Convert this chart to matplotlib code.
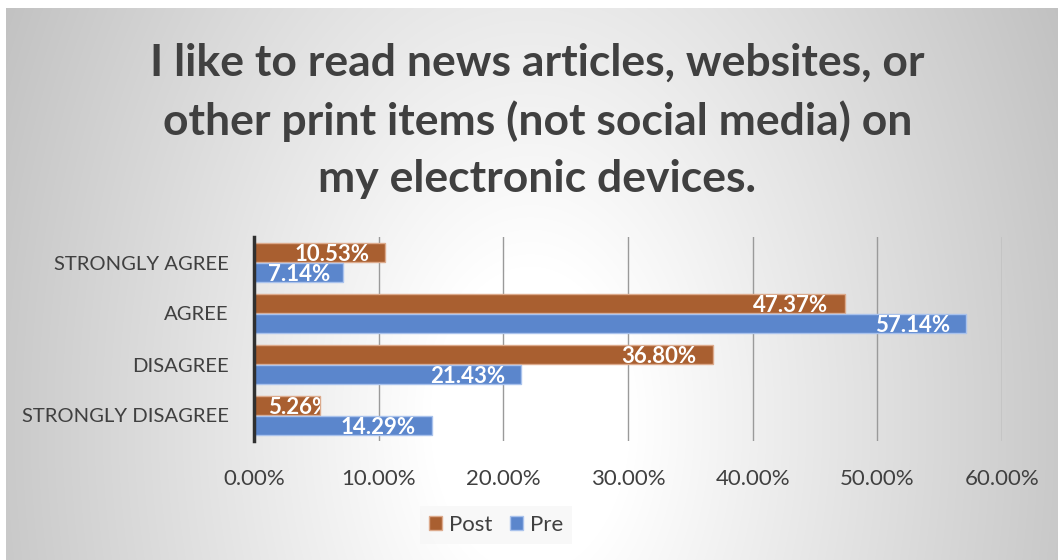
import numpy as np
import matplotlib
matplotlib.use("Agg")
import matplotlib.pyplot as plt
from matplotlib.patches import Patch

categories = ["STRONGLY AGREE", "AGREE", "DISAGREE", "STRONGLY DISAGREE"]
post = [10.53, 47.37, 36.80, 5.26]
pre = [7.14, 57.14, 21.43, 14.29]
xticks = [0, 10, 20, 30, 40, 50, 60]
title = ("I like to read news articles, websites, or\n"
         "other print items (not social media) on\n"
         "my electronic devices.")

post_color = "#a95f30"
pre_color = "#5b86cc"
text_color = "#404040"

plt.rcParams["font.family"] = ["Lato", "DejaVu Sans"]

W, H = 1058, 560
fig = plt.figure(figsize=(W / 100, H / 100), dpi=100)

# elliptical grey-to-white background, lightest around the lower middle
bg = fig.add_axes([0, 0, 1, 1], zorder=-5)
yy, xx = np.mgrid[0:H, 0:W]
d = np.hypot(xx - 530, (yy - 420) * 0.65)
shade = np.clip(255 - (d - 100) * 0.125, 192, 255) / 255
img = np.dstack([shade, shade, shade])
img[:8, :, :] = 1.0
img[:, :6, :] = 1.0
bg.imshow(img, aspect="auto", interpolation="bilinear")
bg.axis("off")

ax = fig.add_axes([254 / W, 1 - 441 / H, 748 / W, 204 / H])
ax.patch.set_alpha(0)

y = np.arange(len(categories))
h = 0.37
post_bars = ax.barh(y - 0.19, post, height=h, color=post_color,
                    edgecolor="#dcaa8c", linewidth=1, zorder=3)
pre_bars = ax.barh(y + 0.19, pre, height=h, color=pre_color,
                   edgecolor="#a9c2ec", linewidth=1, zorder=3)

ax.set_xlim(0, 60)
ax.set_ylim(3.5, -0.5)
ax.set_xticks(xticks)
ax.set_xticklabels([f"{t:.2f}%" for t in xticks])
ax.set_yticks(y)
ax.set_yticklabels(categories)
ax.tick_params(axis="both", length=0, colors=text_color)
ax.tick_params(axis="x", pad=20, labelsize=16)
ax.tick_params(axis="y", pad=18, labelsize=14.6)
ax.grid(axis="x", color="#9a9a9a", linewidth=1, zorder=0)
for s in ["top", "right", "bottom"]:
    ax.spines[s].set_visible(False)
ax.spines["left"].set_color("#303030")
ax.spines["left"].set_linewidth(2.5)
ax.spines["left"].set_zorder(5)

# value labels at the inside end of each bar; short bars clip the text
labels = []
for bars, vals in [(post_bars, post), (pre_bars, pre)]:
    for bar, v in zip(bars, vals):
        t = ax.text(v - 1.3, bar.get_y() + bar.get_height() / 2 + 0.04,
                    f"{v:.2f}%", ha="right", va="center", color="white",
                    fontsize=16, fontweight="bold", zorder=4)
        labels.append((t, bar))

fig.canvas.draw()
renderer = fig.canvas.get_renderer()
x_min = ax.transData.transform((1.1, 0))[0]
for t, bar in labels:
    bb = t.get_window_extent(renderer)
    if bb.x0 < x_min:
        t.set_x(1.1)
        t.set_ha("left")
        t.set_clip_on(True)
        t.set_clip_path(bar)

fig.text(0.508, 1 - 121 / H, title, ha="center", va="center", fontsize=32,
         fontweight="bold", color=text_color, linespacing=1.52)

handles = [Patch(facecolor=post_color, edgecolor="#dcaa8c", label="Post"),
           Patch(facecolor=pre_color, edgecolor="#a9c2ec", label="Pre")]
fig.legend(handles=handles, loc="center", bbox_to_anchor=(496 / W, 1 - 525 / H),
           ncol=2, frameon=True, fontsize=16, handlelength=0.6, handleheight=0.6,
           handletextpad=0.3, columnspacing=0.8, labelcolor=text_color,
           facecolor="#f7f7f7", edgecolor="none", framealpha=0.8, fancybox=False)

fig.savefig("out.png", dpi=100)
